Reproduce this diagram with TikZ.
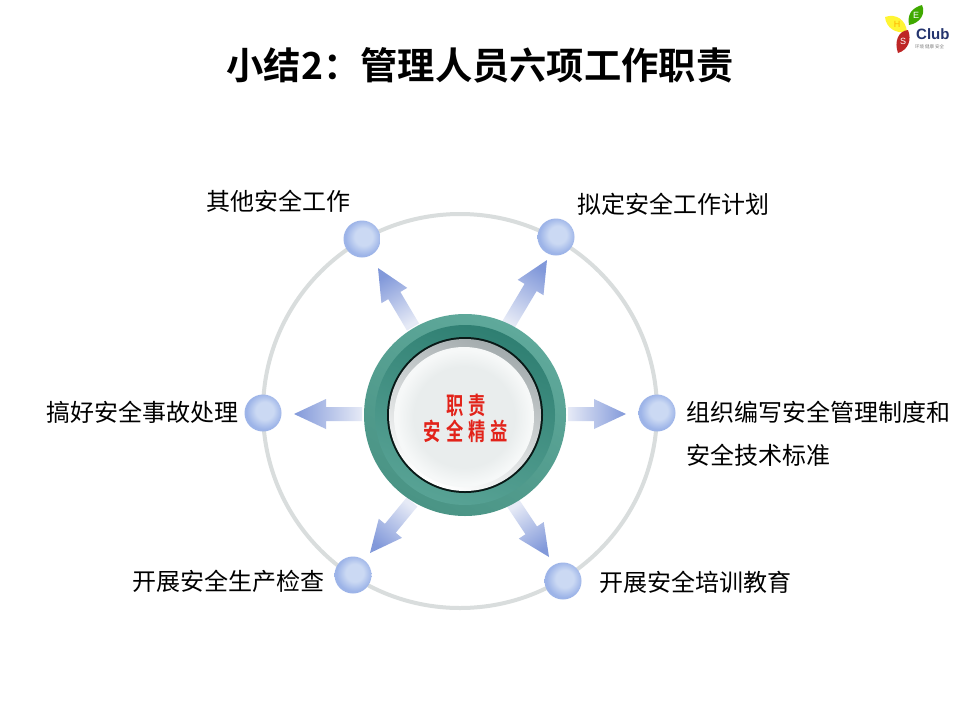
\documentclass[tikz,border=0pt]{standalone}
\usepackage{fontspec}
\usetikzlibrary{calc,shadings}
\setmainfont{Noto Sans CJK SC}
\newfontfamily\cjkb[BoldFont={Noto Sans CJK SC Bold}]{Noto Sans CJK SC}
\newfontfamily\cjkn[FakeStretch=0.72]{Noto Sans CJK SC Bold}
\newfontfamily\latinb{Liberation Sans}
\definecolor{ringgray}{HTML}{D9DDDD}
\definecolor{arrowdark}{HTML}{8299DA}
\definecolor{arrowlight}{HTML}{E6EAF6}
\definecolor{ballout}{HTML}{9DB4E8}
\definecolor{ballin}{HTML}{CBD9F3}
\definecolor{tealA}{HTML}{5FA99B}
\definecolor{tealB}{HTML}{2F7F72}
\definecolor{tealC}{HTML}{4A9485}
\definecolor{hubred}{HTML}{E2231A}
\definecolor{clubblue}{HTML}{24346E}
\definecolor{lensmid}{HTML}{E9EDED}
\definecolor{lensrim}{HTML}{F6F8F8}
\definecolor{lensdark}{HTML}{A3ABAD}
\pgfdeclareradialshading{ballshade}{\pgfpoint{3bp}{4bp}}{color(0bp)=(ballin); color(12bp)=(ballin); color(24bp)=(ballout); color(50bp)=(ballout)}
\pgfdeclareradialshading{lensshade}{\pgfpoint{0bp}{0bp}}{color(0bp)=(lensmid); color(18bp)=(lensmid); color(24bp)=(lensrim); color(50bp)=(lensrim)}
\tikzset{
  ballnode/.style={circle,minimum size=37pt,inner sep=0pt,shading=ballshade,draw=none},
  itemlabel/.style={anchor=west,inner sep=0pt,font=\fontsize{24}{24}\selectfont,text=black},
  hublabel/.style={inner sep=0pt,text=hubred,font=\fontsize{24}{24}\cjkn\selectfont},
  lettermark/.style={inner sep=0pt,font=\fontsize{9}{9}\latinb\selectfont},
}
\newcommand{\blockarrow}[3]{%
  \coordinate (hb) at ($(#2)!32pt!(#1)$);
  \shade[top color=arrowdark,bottom color=arrowlight,shading angle=#3]
    ($(#1)!7pt!90:(#2)$) -- ($(hb)!7pt!90:(#2)$) -- ($(hb)!15pt!90:(#2)$) -- (#2)
    -- ($(hb)!15pt!-90:(#2)$) -- ($(hb)!7pt!-90:(#2)$) -- ($(#1)!7pt!-90:(#2)$) -- cycle;
}
\begin{document}
\begin{tikzpicture}[x=1pt,y=-1pt]
\useasboundingbox (0,0) rectangle (960,720);
\fill[white] (0,0) rectangle (960,720);

% title
\node[inner sep=0pt,font=\fontsize{37.3}{37.3}\cjkb\bfseries\selectfont] (title) at (480,65) {小结2：管理人员六项工作职责};

% ring
\coordinate (ringc) at (460,411);
\draw[ringgray,line width=4pt] (ringc) circle[radius=197];

% arrow ends
\coordinate (t1) at (507,327); \coordinate (p1) at (547,260);
\coordinate (t2) at (568,414); \coordinate (p2) at (626,414);
\coordinate (t3) at (513,503); \coordinate (p3) at (549,557);
\coordinate (t4) at (412,502); \coordinate (p4) at (370,553);
\coordinate (t5) at (362,414); \coordinate (p5) at (294,414);
\coordinate (t6) at (413,327); \coordinate (p6) at (378,268);
\blockarrow{t1}{p1}{-31}
\blockarrow{t2}{p2}{-90}
\blockarrow{t3}{p3}{-146}
\blockarrow{t4}{p4}{140}
\blockarrow{t5}{p5}{90}
\blockarrow{t6}{p6}{31}

% hub
\coordinate (hub) at (465,415);
\shade[top color=tealA,bottom color=tealC,shading angle=-30] (hub) circle[radius=101];
\shade[top color=tealB,bottom color=tealA!85!tealB,shading angle=-20] (hub) circle[radius=90];
\fill[black!80!tealB] (hub) circle[radius=78];
\shade[top color=lensdark,bottom color=white,shading angle=-25] (hub) circle[radius=76];
\shade[shading=lensshade] ($(hub)+(-1,2)$) circle[radius=70];
\node[hublabel] (hubt1) at (466,405) {职\hspace{5pt}责};
\node[hublabel] (hubt2) at (466,431) {安\hspace{5pt}全\hspace{5pt}精\hspace{5pt}益};

% balls
\node[ballnode] (b1) at (556,237) {};
\node[ballnode] (b2) at (657,413) {};
\node[ballnode] (b3) at (563,581) {};
\node[ballnode] (b4) at (353,575) {};
\node[ballnode] (b5) at (263,413) {};
\node[ballnode] (b6) at (362,239) {};

% labels
\node[itemlabel] (l1) at (577,204) {拟定安全工作计划};
\node[itemlabel] (l2a) at (686,412) {组织编写安全管理制度和};
\node[itemlabel] (l2b) at (686,455) {安全技术标准};
\node[itemlabel] (l3) at (599,582) {开展安全培训教育};
\node[itemlabel] (l4) at (132,581) {开展安全生产检查};
\node[itemlabel] (l5) at (46,412) {搞好安全事故处理};
\node[itemlabel] (l6) at (206,201) {其他安全工作};

% logo
\fill[color=green!55!black!75!yellow] (909,25) .. controls (907,14) and (912,8) .. (922,5) .. controls (926,14) and (920,23) .. (909,25) -- cycle;
\fill[color=yellow!80!white] (885,17) .. controls (896,13) and (906,20) .. (907,32) .. controls (896,34) and (886,28) .. (885,17) -- cycle;
\fill[color=red!70!black!85!white] (908,30) .. controls (898,31) and (894,42) .. (898,53) .. controls (908,50) and (912,40) .. (908,30) -- cycle;
\node[lettermark,text=white] (logoe) at (916,15) {E};
\node[lettermark,text=orange!60!yellow] (logoh) at (897,24) {H};
\node[lettermark,text=white] (logos) at (903,41) {S};
\node[inner sep=0pt,anchor=west,text=clubblue,font=\fontsize{15}{15}\latinb\bfseries\selectfont] (club) at (916,34) {Club};
\node[inner sep=0pt,anchor=west,text=gray,font=\fontsize{4.5}{4.5}\selectfont] (clubsub) at (915,47) {环境 健康 安全};
\end{tikzpicture}
\end{document}
